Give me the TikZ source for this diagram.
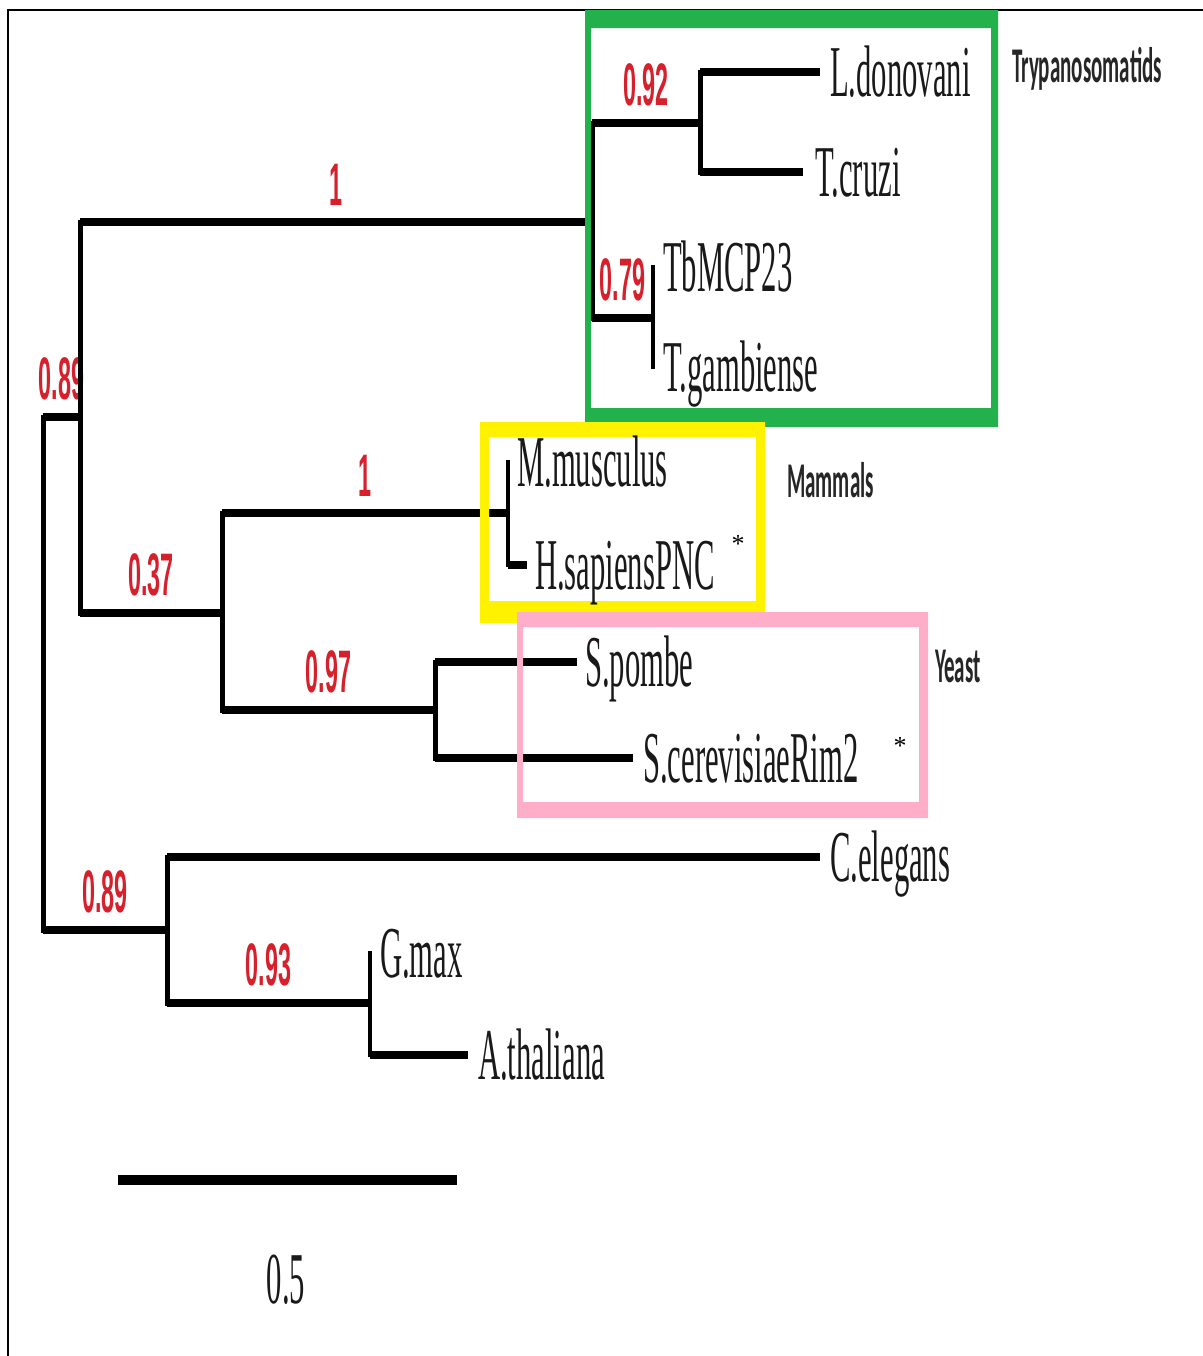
\documentclass[tikz,border=0pt]{standalone}
\usepackage{fontspec}
\setmainfont{Liberation Serif}
\newfontfamily\suppfont{Liberation Sans}
\newfontfamily\cladefont{Carlito}
\usepackage{tikz}
\usetikzlibrary{positioning}
\definecolor{vertClade}{RGB}{34,177,76}
\definecolor{jauneClade}{RGB}{255,242,0}
\definecolor{roseClade}{RGB}{255,174,201}
\definecolor{rougeSupp}{RGB}{214,32,44}

\begin{document}
\begin{tikzpicture}[x=0.5pt, y=-0.5pt,
  hbr/.style={line width=4pt},
  vbr/.style={line width=2.5pt, line cap=rect},
  vthin/.style={line width=1.75pt, line cap=rect},
  taxon/.style={font=\fontsize{36.5}{40}\selectfont, text=black!90, xscale=0.42,
                inner sep=0, text height=24pt, text depth=0pt, anchor=west},
  supp/.style={font=\suppfont\bfseries\fontsize{30}{32}\selectfont, text=rougeSupp,
               xscale=0.39, inner sep=0, midway, above=6.5pt},
  clade/.style={font=\cladefont\bfseries\fontsize{25}{28}\selectfont, text=black!85,
                xscale=0.42, inner sep=0, anchor=base west},
  etoile/.style={font=\fontsize{13}{15}\selectfont, inner sep=0, anchor=north}]

\useasboundingbox (0,0) rectangle (1203,1356);
\draw[line width=1pt] (8,1356) -- (8,10) -- (1203,10);

\coordinate (root) at (43,673);
\coordinate (nA) at (80,417);
\coordinate (nC) at (167,930);
\coordinate (nT) at (592,222);
\coordinate (nB) at (222,613);
\coordinate (nLT) at (700,123);
\coordinate (nTb) at (653,318);
\coordinate (nM) at (508,513);
\coordinate (nY) at (435,710);
\coordinate (nG) at (370,1003);

\coordinate (eLdon) at (820,72);
\coordinate (eTcru) at (803,172);
\coordinate (eTb) at (653,267);
\coordinate (eTgam) at (653,367);
\coordinate (eMmus) at (508,462);
\coordinate (eHsap) at (527,565);
\coordinate (eSpom) at (577,662);
\coordinate (eScer) at (633,758);
\coordinate (eCele) at (820,857);
\coordinate (eGmax) at (370,953);
\coordinate (eAth) at (468,1055);

\draw[vbr] (root |- nA) -- (root |- nC);
\draw[hbr] (root |- nA) -- node[supp] (s1) {0.89} (nA);
\draw[hbr] (root |- nC) -- node[supp] (s2) {0.89} (nC);

\draw[vbr] (nA |- nT) -- (nA |- nB);
\draw[hbr] (nA |- nT) -- node[supp] (s3) {1} (nT);
\draw[hbr] (nA |- nB) -- node[supp] (s4) {0.37} (nB);

\draw[vbr] (nT |- nLT) -- (nT |- nTb);
\draw[hbr] (nT |- nLT) -- node[supp] (s5) {0.92} (nLT);
\draw[hbr] (nT |- nTb) -- node[supp] (s6) {0.79} (nTb);
\draw[vbr] (nLT |- eLdon) -- (nLT |- eTcru);
\draw[hbr] (nLT |- eLdon) -- (eLdon);
\draw[hbr] (nLT |- eTcru) -- (eTcru);
\draw[vthin] (eTb) -- (eTgam);

\draw[vbr] (nB |- nM) -- (nB |- nY);
\draw[hbr] (nB |- nM) -- node[supp] (s7) {1} (nM);
\draw[hbr] (nB |- nY) -- node[supp] (s8) {0.97} (nY);
\draw[vthin] (eMmus) -- (nM |- eHsap);
\draw[hbr] (nM |- eHsap) -- (eHsap);
\draw[vbr] (nY |- eSpom) -- (nY |- eScer);
\draw[hbr] (nY |- eSpom) -- (eSpom);
\draw[hbr] (nY |- eScer) -- (eScer);

\draw[vbr] (nC |- eCele) -- (nC |- nG);
\draw[hbr] (nC |- eCele) -- (eCele);
\draw[hbr] (nC |- nG) -- node[supp] (s9) {0.93} (nG);
\draw[vthin] (eGmax) -- (nG |- eAth);
\draw[hbr] (nG |- eAth) -- (eAth);

\fill[vertClade, even odd rule] (585,10) rectangle (998,427) (591,28) rectangle (991,408);
\fill[jauneClade, even odd rule] (480,422) rectangle (765,623) (489,437) rectangle (756,601);
\fill[roseClade, even odd rule] (517,612) rectangle (928,818) (523,627) rectangle (919,802);

\node[taxon, right=5pt of eLdon] (ldon) {L.donovani};
\node[taxon, right=6pt of eTcru] (tcru) {T.cruzi};
\node[taxon, right=5pt of eTb] (tbmcp) {TbMCP23};
\node[taxon, right=5pt of eTgam] (tgam) {T.gambiense};
\node[taxon, right=4.5pt of eMmus] (mmus) {M.musculus};
\node[taxon, right=4pt of eHsap] (hsap) {H.sapiensPNC};
\node[taxon, right=4pt of eSpom] (spom) {S.pombe};
\node[taxon, right=5pt of eScer] (scer) {S.cerevisiaeRim2};
\node[taxon, right=5pt of eCele] (cele) {C.elegans};
\node[taxon, right=5pt of eGmax] (gmax) {G.max};
\node[taxon, right=5pt of eAth] (athal) {A.thaliana};

\node[etoile] (astH) at (738,535) {*};
\node[etoile] (astS) at (900,737) {*};

\node[clade] (gTryp) at (1012,82) {Trypanosomatids};
\node[clade] (gMam) at (787,497) {Mammals};
\node[clade] (gYeast) at (935,682) {Yeast};

\coordinate (sbL) at (118,1180);
\coordinate (sbR) at (457,1180);
\draw[line width=5pt] (sbL) -- (sbR);
\node[taxon, anchor=base] (sbLab) at (286,1303) {0.5};

\end{tikzpicture}
\end{document}
